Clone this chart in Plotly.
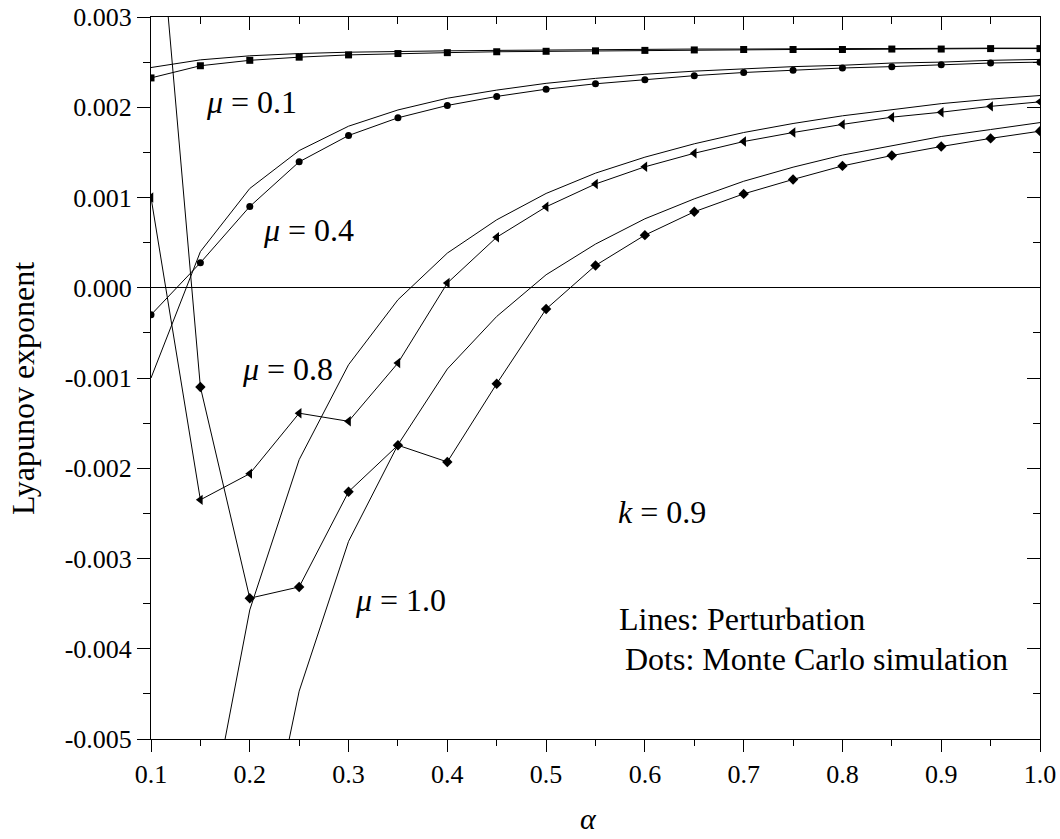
import numpy as np
import plotly.graph_objects as go

# Lyapunov exponent vs alpha, k = 0.9 (values in units of 1e-3)
SCALE = 1e-3
alpha = [0.10, 0.15, 0.20, 0.25, 0.30, 0.35, 0.40, 0.45, 0.50, 0.55,
         0.60, 0.65, 0.70, 0.75, 0.80, 0.85, 0.90, 0.95, 1.00]

# perturbation results (lines)
pert_mu01 = [2.44, 2.525, 2.57, 2.595, 2.61, 2.62, 2.625, 2.63, 2.635, 2.64,
             2.64, 2.645, 2.645, 2.65, 2.65, 2.65, 2.655, 2.655, 2.655]
pert_mu04 = [-1.0, 0.40, 1.10, 1.52, 1.79, 1.97, 2.10, 2.19, 2.265, 2.32,
             2.365, 2.40, 2.425, 2.45, 2.465, 2.49, 2.50, 2.52, 2.53]
pert_mu08 = [-12.0, -6.43, -3.57, -1.905, -0.853, -0.133, 0.384, 0.753, 1.045, 1.27,
             1.447, 1.595, 1.72, 1.82, 1.905, 1.97, 2.04, 2.09, 2.13]
pert_mu10 = [-20.0, -12.0, -7.1, -4.47, -2.81, -1.74, -0.90, -0.318, 0.144, 0.484,
             0.764, 0.985, 1.18, 1.336, 1.47, 1.576, 1.676, 1.753, 1.83]

# Monte Carlo simulation results (dots)
mc_mu01 = [2.325, 2.46, 2.52, 2.555, 2.58, 2.595, 2.605, 2.615, 2.62, 2.625,
           2.63, 2.635, 2.64, 2.64, 2.64, 2.645, 2.645, 2.65, 2.65]
mc_mu04 = [-0.30, 0.277, 0.90, 1.395, 1.687, 1.883, 2.02, 2.12, 2.20, 2.26,
           2.305, 2.35, 2.385, 2.41, 2.435, 2.45, 2.47, 2.49, 2.50]
mc_mu08 = [1.0, -2.35, -2.06, -1.39, -1.48, -0.834, 0.052, 0.56, 0.897, 1.15,
           1.34, 1.49, 1.62, 1.72, 1.81, 1.89, 1.945, 2.01, 2.06]
mc_mu10 = [5.2, -1.10, -3.44, -3.315, -2.26, -1.745, -1.93, -1.063, -0.236, 0.247,
           0.583, 0.842, 1.04, 1.20, 1.35, 1.465, 1.565, 1.655, 1.735]

x_tickvals = [0.1, 0.2, 0.3, 0.4, 0.5, 0.6, 0.7, 0.8, 0.9, 1.0]
x_ticktext = ["0.1", "0.2", "0.3", "0.4", "0.5", "0.6", "0.7", "0.8", "0.9", "1.0"]
y_tickvals = [0.003, 0.002, 0.001, 0.0, -0.001, -0.002, -0.003, -0.004, -0.005]
y_ticktext = ["0.003", "0.002", "0.001", "0.000", "-0.001", "-0.002", "-0.003", "-0.004", "-0.005"]

FONT = "Liberation Serif, Times New Roman, serif"
LINE = dict(color="black", width=1)

fig = go.Figure()

for ys in (pert_mu01, pert_mu04, pert_mu08, pert_mu10):
    fig.add_trace(go.Scatter(x=alpha, y=np.array(ys) * SCALE, mode="lines",
                             line=LINE, showlegend=False, hoverinfo="skip"))

for ys, sym, msize in ((mc_mu01, "square", 7), (mc_mu04, "circle", 7),
                       (mc_mu08, "triangle-left", 9), (mc_mu10, "diamond", 8)):
    fig.add_trace(go.Scatter(x=alpha, y=np.array(ys) * SCALE, mode="lines+markers",
                             line=LINE, marker=dict(symbol=sym, size=msize, color="black"),
                             showlegend=False))

# in-plot labels
labels = [
    ("<i>μ</i> = 0.1", 0.202, 0.00206, "center"),
    ("<i>μ</i> = 0.4", 0.259, 0.00064, "center"),
    ("<i>μ</i> = 0.8", 0.238, -0.00090, "center"),
    ("<i>μ</i> = 1.0", 0.353, -0.003455, "center"),
    ("<i>k</i> = 0.9", 0.617, -0.00249, "center"),
    ("Lines: Perturbation", 0.572, -0.003666, "left"),
    ("Dots: Monte Carlo simulation", 0.578, -0.004109, "left"),
]
for text, ax, ay, anchor in labels:
    fig.add_annotation(x=ax, y=ay, xref="x", yref="y", text=text, showarrow=False,
                       xanchor=anchor, yanchor="middle",
                       font=dict(family=FONT, size=32, color="black"))

# axis titles
fig.add_annotation(x=0.492, y=-0.136, xref="paper", yref="paper", text="<i>α</i>",
                   showarrow=False, xanchor="center", yanchor="bottom",
                   font=dict(family=FONT, size=30, color="black"))
fig.add_annotation(x=-0.144, y=0.486, xref="paper", yref="paper", text="Lyapunov exponent",
                   textangle=-90, showarrow=False, xanchor="center", yanchor="middle",
                   font=dict(family=FONT, size=32, color="black"))

axis_common = dict(showline=True, linecolor="black", linewidth=1, showgrid=False,
                   tickcolor="black", tickwidth=1, mirror=False, automargin=False)

fig.update_layout(
    width=1060, height=839,
    margin=dict(l=151, r=20, t=17, b=100),
    paper_bgcolor="white", plot_bgcolor="white",
    font=dict(family=FONT, size=26, color="black"),
    xaxis=dict(range=[0.1, 1.0], tickmode="array", tickvals=x_tickvals, ticktext=x_ticktext,
               ticks="outside", ticklen=12,
               minor=dict(tickmode="linear", tick0=0.1, dtick=0.05, ticks="outside",
                          ticklen=6, tickcolor="black", tickwidth=1),
               zeroline=False, **axis_common),
    yaxis=dict(range=[-0.005, 0.003], tickmode="array", tickvals=y_tickvals, ticktext=y_ticktext,
               ticks="outside", ticklen=13,
               minor=dict(tickmode="linear", tick0=0.0, dtick=0.0005, ticks="outside",
                          ticklen=7, tickcolor="black", tickwidth=1),
               zeroline=True, zerolinecolor="black", zerolinewidth=1, **axis_common),
    xaxis2=dict(overlaying="x", matches="x", side="top", range=[0.1, 1.0],
                tickmode="array", tickvals=x_tickvals, showticklabels=False,
                ticks="inside", ticklen=13,
                minor=dict(tickmode="linear", tick0=0.1, dtick=0.05, ticks="inside",
                           ticklen=7, tickcolor="black", tickwidth=1),
                zeroline=False, **axis_common),
    yaxis2=dict(overlaying="y", matches="y", side="right", range=[-0.005, 0.003],
                tickmode="array", tickvals=y_tickvals, showticklabels=False,
                ticks="inside", ticklen=13,
                minor=dict(tickmode="linear", tick0=0.0, dtick=0.0005, ticks="inside",
                           ticklen=7, tickcolor="black", tickwidth=1),
                zeroline=False, **axis_common),
)

# invisible trace to bring the top/right frame axes into the layout
fig.add_trace(go.Scatter(x=[None], y=[None], xaxis="x2", yaxis="y2",
                         showlegend=False, hoverinfo="skip"))

fig.write_html("out.html")
